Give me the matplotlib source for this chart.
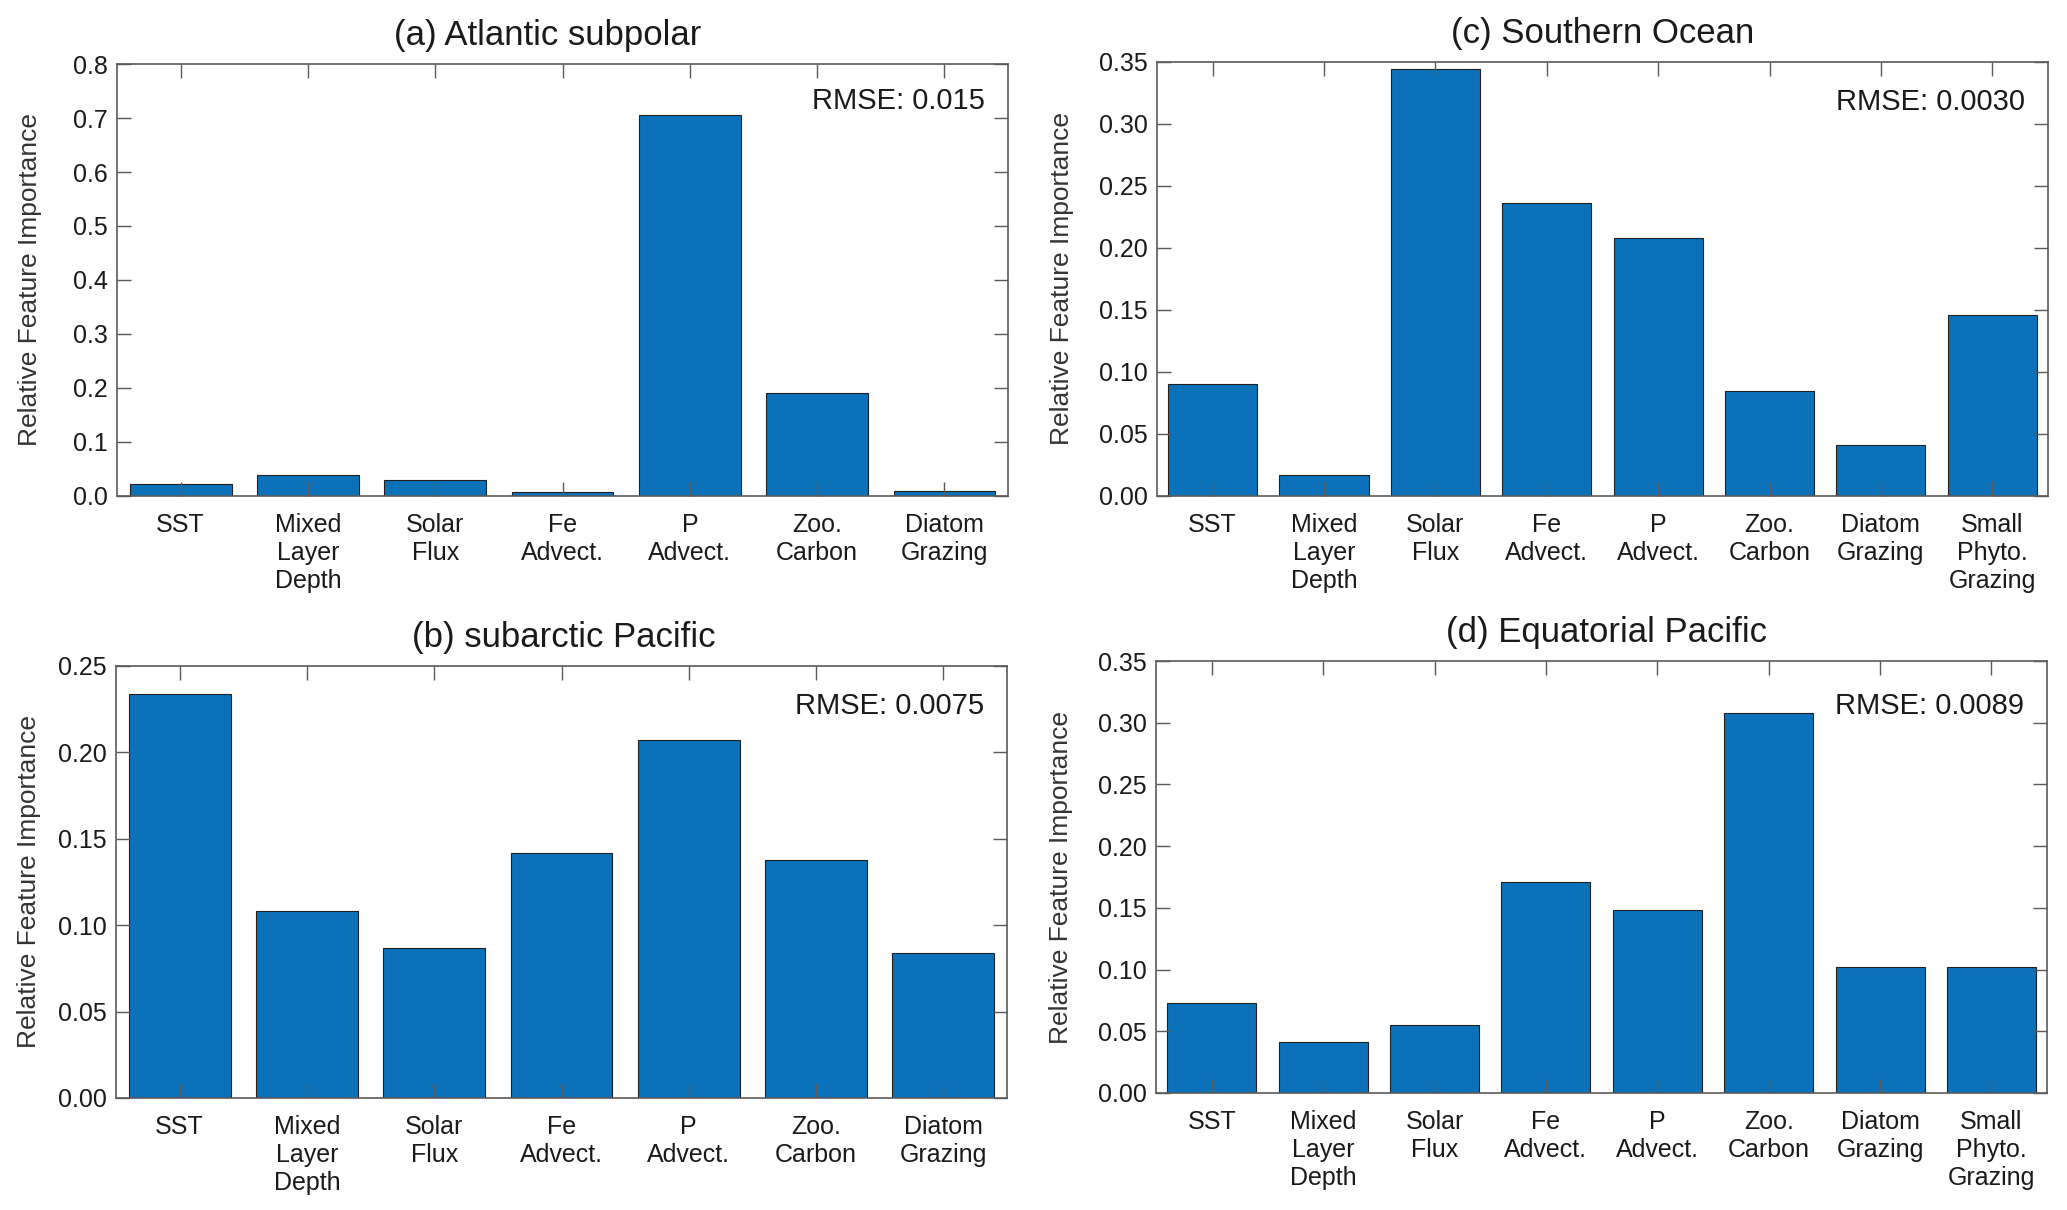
import matplotlib
matplotlib.use('Agg')
import matplotlib.pyplot as plt
from matplotlib.ticker import FormatStrFormatter, MultipleLocator

plt.rcParams['font.family'] = ['Liberation Sans', 'DejaVu Sans']

# Data
labels_7 = ['SST', 'Mixed\nLayer\nDepth', 'Solar\nFlux', 'Fe\nAdvect.', 'P\nAdvect.',
            'Zoo.\nCarbon', 'Diatom\nGrazing']
labels_8 = labels_7 + ['Small\nPhyto.\nGrazing']

atlantic = [0.023, 0.038, 0.029, 0.008, 0.705, 0.190, 0.009]
subarctic = [0.234, 0.108, 0.087, 0.142, 0.207, 0.138, 0.084]
southern = [0.090, 0.017, 0.344, 0.236, 0.208, 0.085, 0.041, 0.146]
equatorial = [0.073, 0.041, 0.055, 0.171, 0.148, 0.308, 0.102, 0.102]

titles = ['(a) Atlantic subpolar', '(b) subarctic Pacific',
          '(c) Southern Ocean', '(d) Equatorial Pacific']
rmse = ['0.015', '0.0075', '0.0030', '0.0089']
ymax = [0.8, 0.25, 0.35, 0.35]
ystep = [0.1, 0.05, 0.05, 0.05]
yfmt = ['%.1f', '%.2f', '%.2f', '%.2f']

BAR = '#0B72B9'
AXC = '#5a5a5a'
TXT = '#1a1a1a'

fig = plt.figure(figsize=(20.67, 12.10), dpi=100)
# layout: axes rect, title x, rmse y, ylabel x
rects = [
    [0.0566, 0.5901, 0.4311, 0.3570],  # a
    [0.0561, 0.0926, 0.4311, 0.3570],  # b
    [0.5597, 0.5901, 0.4311, 0.3587],  # c
    [0.5593, 0.0967, 0.4311, 0.3570],  # d
]
title_x = [0.483, 0.503, 0.5, 0.505]
rmse_y = [0.914, 0.908, 0.908, 0.896]
ylab_x = [-0.084, -0.084, -0.093, -0.093]

datasets = [atlantic, subarctic, southern, equatorial]
labelsets = [labels_7, labels_7, labels_8, labels_8]

for i in range(4):
    ax = fig.add_axes(rects[i])
    vals = datasets[i]
    labs = labelsets[i]
    x = list(range(1, len(vals) + 1))
    ax.bar(x, vals, width=0.8, color=BAR, edgecolor='#202020', linewidth=0.8)

    ax.set_xlim(0.5, len(vals) + 0.5)
    ax.set_ylim(0, ymax[i])
    ax.set_xticks(x)
    ax.set_xticklabels(labs, fontsize=18, color=TXT, linespacing=1.22)
    ax.yaxis.set_major_locator(MultipleLocator(ystep[i]))
    ax.yaxis.set_major_formatter(FormatStrFormatter(yfmt[i]))
    ax.tick_params(axis='y', labelsize=18, labelcolor=TXT)

    ax.tick_params(direction='in', length=10, width=1, color=AXC,
                   top=True, right=True)
    ax.tick_params(axis='x', pad=12)
    ax.tick_params(axis='y', pad=6.5)
    for s in ax.spines.values():
        s.set_color(AXC)
        s.set_linewidth(1.2)

    ax.set_ylabel('Relative Feature Importance', fontsize=19, color='#333333')
    ax.yaxis.set_label_coords(ylab_x[i], 0.5)
    ax.set_title(titles[i], fontsize=25, color=TXT, pad=14, x=title_x[i])
    ax.text(0.974, rmse_y[i], 'RMSE: ' + rmse[i], transform=ax.transAxes,
            ha='right', va='center', fontsize=21, color=TXT)

fig.savefig('out.png', dpi=100)
